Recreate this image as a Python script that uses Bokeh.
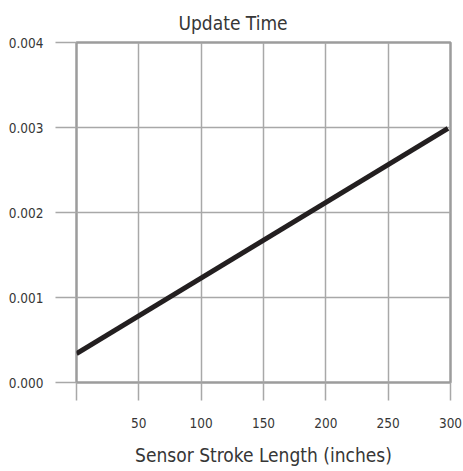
from bokeh.plotting import figure
from bokeh.models import Range1d, FixedTicker
from bokeh.embed import file_html
from bokeh.resources import INLINE

# data
stroke_length = [0, 298]
update_time = [0.00034, 0.00299]
x_ticks = [0, 50, 100, 150, 200, 250, 300]
y_ticks = [0.0, 0.001, 0.002, 0.003, 0.004]
y_tick_labels = ["0.000", "0.001", "0.002", "0.003", "0.004"]
title_text = "Update Time"
x_title = "Sensor Stroke Length (inches)"

FONT = "DejaVu Sans Condensed, Roboto"
TXT = "#363636"
GRID = "#a8a8a8"

p = figure(width=463, height=471, output_backend="svg", toolbar_location=None,
           x_range=Range1d(0, 300), y_range=Range1d(0, 0.004),
           min_border_left=76, min_border_right=13, min_border_top=42, min_border_bottom=89,
           frame_width=374, frame_height=340, title=title_text)

p.line(stroke_length, update_time, line_color="#231f20", line_width=5)

p.title.align = "left"
p.title.offset = 102
p.title.text_font = FONT
p.title.text_font_size = "19px"
p.title.text_font_style = "normal"
p.title.text_color = TXT
p.title.standoff = 17

p.outline_line_color = "#9c9c9c"
p.outline_line_width = 2.5
p.xgrid.ticker = FixedTicker(ticks=x_ticks)
p.ygrid.ticker = FixedTicker(ticks=y_ticks)
for g in (p.xgrid[0], p.ygrid[0]):
    g.grid_line_color = GRID
    g.grid_line_width = 1.5

xa = p.xaxis[0]
xa.ticker = FixedTicker(ticks=x_ticks)
xa.major_label_overrides = {0: ""}
xa.major_tick_out = 18
xa.major_label_standoff = 17
xa.axis_label = x_title
xa.axis_label_standoff = 13

ya = p.yaxis[0]
ya.ticker = FixedTicker(ticks=y_ticks)
ya.major_label_overrides = {t: l for t, l in zip(y_ticks, y_tick_labels)}
ya.major_tick_out = 21
ya.major_label_standoff = 12

for ax in (xa, ya):
    ax.axis_line_color = None
    ax.major_tick_in = 0
    ax.minor_tick_line_color = None
    ax.major_tick_line_color = GRID
    ax.major_tick_line_width = 1.5
    ax.major_label_text_font = FONT
    ax.major_label_text_font_size = "13.5px"
    ax.major_label_text_color = TXT
    ax.axis_label_text_font = FONT
    ax.axis_label_text_font_size = "19px"
    ax.axis_label_text_font_style = "normal"
    ax.axis_label_text_color = TXT

open("out.html", "w").write(file_html(p, INLINE))
